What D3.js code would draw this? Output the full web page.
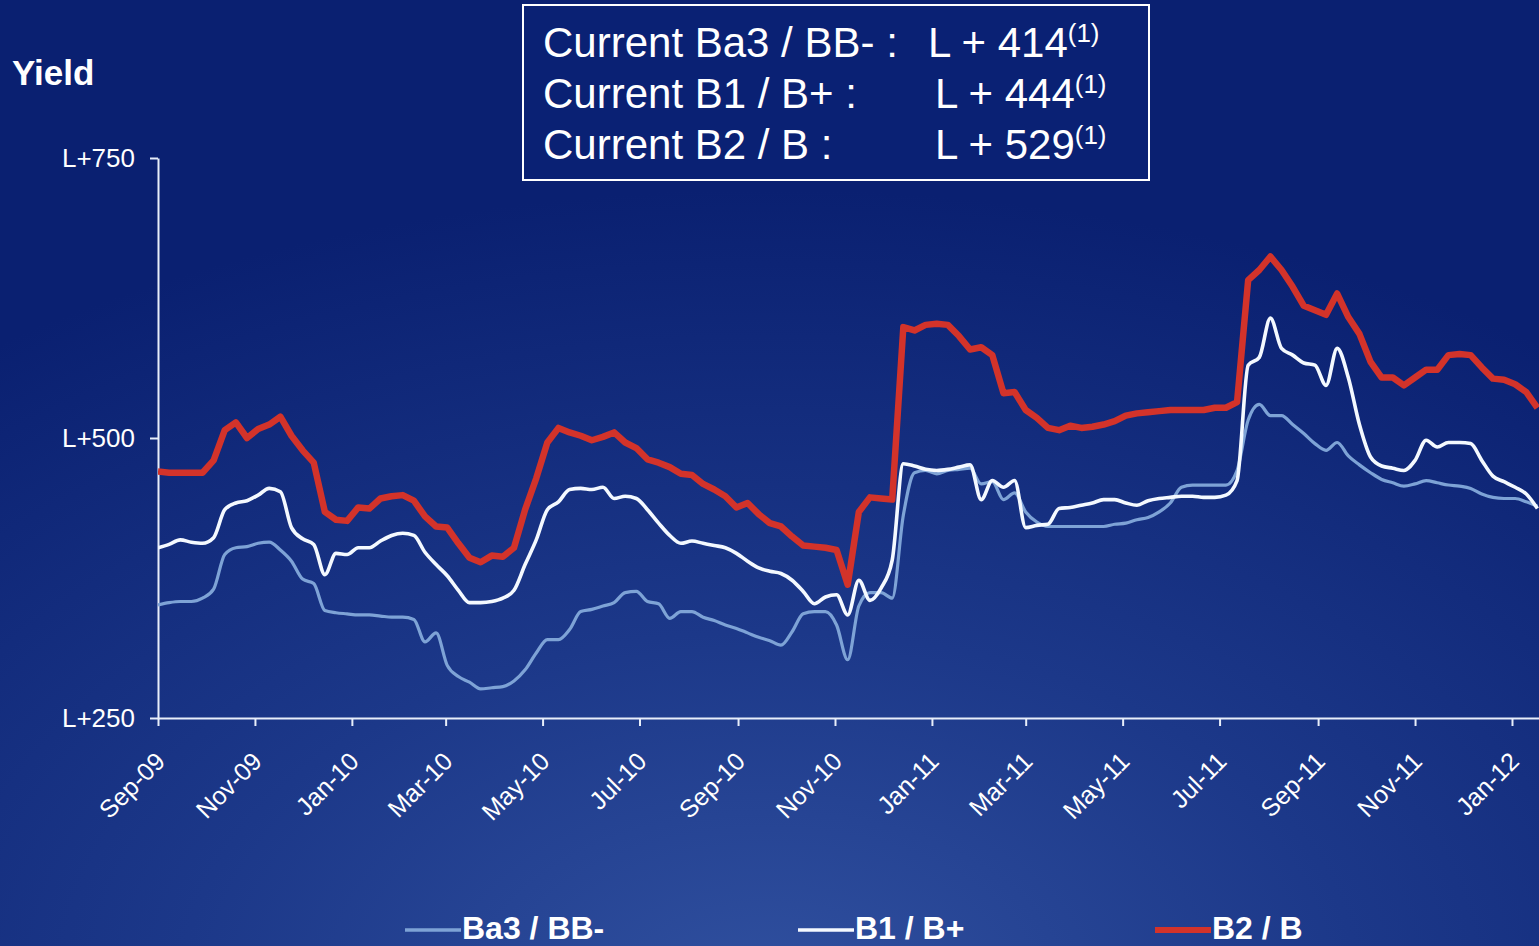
<!DOCTYPE html>
<html>
<head>
<meta charset="utf-8">
<script src="https://cdn.jsdelivr.net/npm/d3@7"></script>
<style>
  html, body { margin: 0; padding: 0; background: #0b2272; overflow: hidden; }
  svg { display: block; }
  text { font-family: "Liberation Sans", Arial, sans-serif; fill: #ffffff; }
</style>
</head>
<body>
<svg id="chart" width="1539" height="946"></svg>
<script>
// Weekly loan spreads over LIBOR (bp), starting the first week of Sep 2009
const seriesNames = ["Ba3 / BB-", "B1 / B+", "B2 / B"];

const ba3 = [351,353,354,354,357,365,396,402,403,406,407,400,390,374,370,346,344,343,342,342,
  341,340,340,338,318,326,297,287,282,276,277,278,283,293,308,320,320,329,345,347,
  350,353,362,363,354,352,339,345,345,340,337,333,330,326,322,319,315,327,343,345,
  345,333,302,350,362,362,357,431,469,471,468,471,472,473,459,461,445,451,434,425,
  421,421,421,421,421,421,423,424,427,429,434,442,456,458,458,458,458,471,516,530,
  520,520,512,504,495,489,496,484,476,469,463,460,457,459,462,460,458,457,455,450,
  447,446,446,443,439];

const b1 = [402,405,409,407,406,411,436,442,444,449,455,452,420,410,405,378,397,396,402,402,
  408,413,415,413,398,387,377,364,353,353,354,357,364,387,409,436,443,454,455,454,
  456,446,448,446,436,424,413,406,408,406,404,402,397,390,384,381,379,373,363,352,
  358,360,342,373,355,366,391,477,475,472,471,472,474,476,445,462,456,462,420,422,
  423,437,438,440,442,445,445,442,440,444,446,447,448,448,447,447,449,462,565,572,
  607,580,574,567,565,547,580,554,512,483,475,473,471,480,498,492,496,496,495,480,
  466,461,456,450,437];

const b2 = [470,469,469,469,469,480,507,514,500,508,512,519,502,489,478,434,427,426,438,437,
  446,448,449,444,430,421,420,406,393,389,395,394,402,436,464,496,509,505,502,498,
  501,505,496,491,481,478,474,468,467,459,454,448,438,442,432,424,421,412,404,403,
  402,400,369,434,447,446,445,599,596,601,602,601,591,579,581,574,540,541,525,518,
  509,507,511,509,510,512,515,520,522,523,524,525,525,525,525,527,527,532,641,650,
  662,650,635,618,614,610,629,608,593,568,554,554,547,554,561,561,574,575,574,563,
  553,552,548,541,527];

const monthTicks = ["Sep-09","Nov-09","Jan-10","Mar-10","May-10","Jul-10","Sep-10","Nov-10",
  "Jan-11","Mar-11","May-11","Jul-11","Sep-11","Nov-11","Jan-12"];
const yTicks = [250, 500, 750];

const currentLabels = ["Current Ba3 / BB- :", "Current B1 / B+ :", "Current B2 / B :"];
const currentValues = [414, 444, 529];

const firstWeek = new Date(2009, 8, 1);
const weeks = b2.map((_, i) => d3.timeDay.offset(firstWeek, 7 * i));

const W = 1539, H = 946;
const svg = d3.select("#chart");
const defs = svg.append("defs");

// backdrop: deep navy, lighter toward the bottom centre
const grad = defs.append("radialGradient")
  .attr("id", "bg").attr("cx", "50%").attr("cy", "105%").attr("r", "85%")
  .attr("fx", "50%").attr("fy", "105%");
grad.append("stop").attr("offset", "0%").attr("stop-color", "#30509f");
grad.append("stop").attr("offset", "45%").attr("stop-color", "#1c3889");
grad.append("stop").attr("offset", "100%").attr("stop-color", "#0a2071");
svg.append("rect").attr("width", W).attr("height", H).attr("fill", "url(#bg)");

const plotLeft = 158, plotRight = W, plotTop = 158, plotBottom = 718;

const x = d3.scaleTime()
  .domain([new Date(2009, 8, 1), new Date(2012, 0, 18)])
  .range([plotLeft, plotRight]);
const y = d3.scaleLinear().domain([250, 750]).range([plotBottom, plotTop]);

defs.append("clipPath").attr("id", "plot")
  .append("rect").attr("x", plotLeft).attr("y", 0)
  .attr("width", plotRight - plotLeft).attr("height", H);

// axes
const parseMonth = d3.timeParse("%b-%y");
const xAxis = d3.axisBottom(x)
  .tickValues(monthTicks.map(parseMonth))
  .tickFormat(d3.timeFormat("%b-%y"))
  .tickSize(8).tickSizeOuter(0);
const gx = svg.append("g").attr("transform", `translate(0,${plotBottom})`).call(xAxis);
gx.select(".domain").attr("stroke", "#e8eefa").attr("stroke-width", 2);
gx.selectAll(".tick line").attr("stroke", "#e8eefa").attr("stroke-width", 2);
gx.selectAll(".tick text")
  .attr("font-size", 25).attr("font-family", "Liberation Sans, Arial, sans-serif")
  .attr("fill", "#ffffff").attr("text-anchor", "end")
  .attr("x", 0).attr("y", 0).attr("dy", 0)
  .attr("transform", "translate(8,45) rotate(-45)");

const yAxis = d3.axisLeft(y)
  .tickValues(yTicks).tickFormat(d => "L+" + d)
  .tickSize(8).tickSizeOuter(0).tickPadding(15);
const gy = svg.append("g").attr("transform", `translate(${plotLeft},0)`).call(yAxis);
gy.select(".domain").attr("stroke", "#e8eefa").attr("stroke-width", 2);
gy.selectAll(".tick line").attr("stroke", "#e8eefa").attr("stroke-width", 2);
gy.selectAll(".tick text")
  .attr("font-size", 26).attr("font-family", "Liberation Sans, Arial, sans-serif")
  .attr("fill", "#ffffff");

svg.append("text").attr("x", 12).attr("y", 85)
  .attr("font-size", 35).attr("font-weight", "bold").text("Yield");

// series lines
const styles = [
  { data: ba3, color: "#7ea3d6", width: 3.2, curve: d3.curveMonotoneX },
  { data: b1,  color: "#f4f9ff", width: 3.6, curve: d3.curveMonotoneX },
  { data: b2,  color: "#d3332a", width: 6.5, curve: d3.curveLinear }
];
const plot = svg.append("g").attr("clip-path", "url(#plot)");
styles.forEach(s => {
  const line = d3.line()
    .x((d, i) => x(weeks[i]))
    .y(d => y(d))
    .curve(s.curve);
  plot.append("path").datum(s.data)
    .attr("fill", "none").attr("stroke", s.color)
    .attr("stroke-width", s.width).attr("stroke-linejoin", "round")
    .attr("d", line);
});

// current spread box
svg.append("rect").attr("x", 523).attr("y", 5).attr("width", 626).attr("height", 175)
  .attr("fill", "#0a2174").attr("stroke", "#ffffff").attr("stroke-width", 2);
const valueX = [928, 935, 935];
currentLabels.forEach((lab, i) => {
  const by = 57 + i * 51;
  svg.append("text").attr("x", 543).attr("y", by).attr("font-size", 42).text(lab);
  const t = svg.append("text").attr("x", valueX[i]).attr("y", by).attr("font-size", 42);
  t.append("tspan").text("L + " + currentValues[i]);
  t.append("tspan").attr("font-size", 26).attr("dy", -15).text("(1)");
});

// legend
const legendX = [405, 798, 1155];
styles.forEach((s, i) => {
  svg.append("line")
    .attr("x1", legendX[i]).attr("x2", legendX[i] + 56)
    .attr("y1", 930).attr("y2", 930)
    .attr("stroke", s.color).attr("stroke-width", i === 2 ? 6 : 3.5);
  svg.append("text").attr("x", legendX[i] + 57).attr("y", 939)
    .attr("font-size", 32).attr("font-weight", "bold").text(seriesNames[i]);
});
</script>
</body>
</html>
